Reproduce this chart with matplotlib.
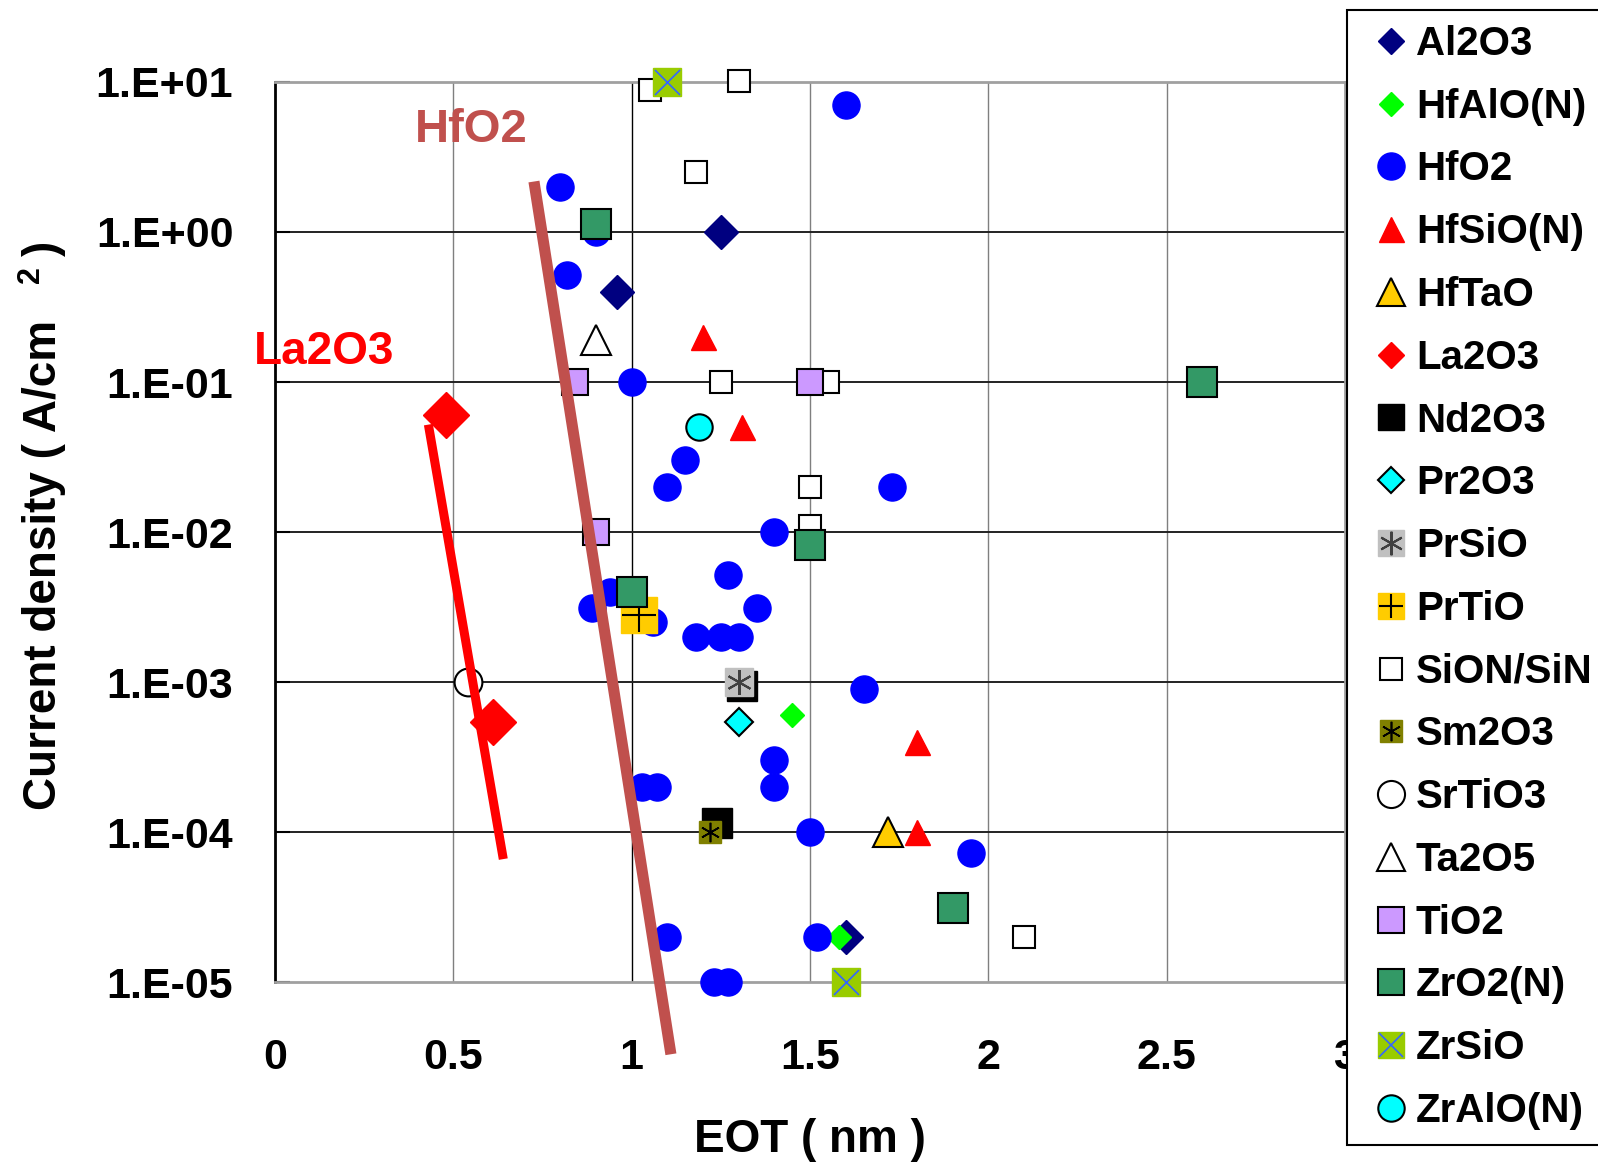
import numpy as np
import matplotlib
matplotlib.use('Agg')
import matplotlib.pyplot as plt
from matplotlib.lines import Line2D
from matplotlib.legend_handler import HandlerTuple

plt.rcParams['font.family'] = ['Liberation Sans', 'DejaVu Sans']
plt.rcParams['font.weight'] = 'bold'

### Data (EOT in nm, current density in A/cm2)
al2o3_x = [1.25, 0.96, 1.60]
al2o3_y = [1.0, 0.40, 2.0e-5]
hfalo_x = [1.45, 1.58]
hfalo_y = [6.0e-4, 2.0e-5]
hfo2_x = [1.60, 0.80, 0.90, 0.82, 1.00, 1.15, 1.10, 1.73, 1.40, 1.27, 0.94, 0.89, 1.06,
          1.35, 1.18, 1.25, 1.30, 1.65, 1.40, 1.40, 1.03, 1.07, 1.50, 1.95, 1.10, 1.52,
          1.23, 1.27]
hfo2_y = [7.0, 2.0, 1.0, 0.52, 0.10, 0.030, 0.020, 0.020, 0.010, 0.0052, 0.0040, 0.0031,
          0.0025, 0.0031, 0.0020, 0.0020, 0.0020, 9.0e-4, 3.0e-4, 2.0e-4, 2.0e-4, 2.0e-4,
          1.0e-4, 7.3e-5, 2.0e-5, 2.0e-5, 1.0e-5, 1.0e-5]
hfsio_x = [1.20, 1.31, 1.80, 1.80]
hfsio_y = [0.20, 0.050, 4.0e-4, 1.0e-4]
hftao_x = [1.72]
hftao_y = [1.0e-4]
la2o3_x = [0.48, 0.61]
la2o3_y = [0.060, 5.4e-4]
nd2o3_x = [1.24, 1.31]
nd2o3_y = [1.15e-4, 9.4e-4]
pr2o3_x = [1.30]
pr2o3_y = [5.4e-4]
prsio_x = [1.30]
prsio_y = [1.0e-3]
prtio_x = [1.02]
prtio_y = [2.8e-3]
sion_x = [1.05, 1.30, 1.18, 1.25, 1.55, 1.50, 1.50, 2.10]
sion_y = [8.8, 10.2, 2.5, 0.10, 0.10, 0.020, 0.011, 2.0e-5]
sm2o3_x = [1.22]
sm2o3_y = [1.0e-4]
srtio3_x = [0.54]
srtio3_y = [1.0e-3]
ta2o5_x = [0.90]
ta2o5_y = [0.19]
tio2_x = [0.84, 0.90, 1.50]
tio2_y = [0.10, 0.010, 0.10]
zro2_x = [0.90, 1.00, 1.50, 2.60, 1.90]
zro2_y = [1.13, 0.0040, 0.0082, 0.10, 3.1e-5]
zrsio_x = [1.10, 1.60]
zrsio_y = [10.0, 1.0e-5]
zralo_x = [1.19]
zralo_y = [0.050]

hfo2_trend_x = [0.726, 1.11]
hfo2_trend_y = [2.17, 3.3e-6]
la2o3_trend_x = [0.43, 0.64]
la2o3_trend_y = [0.052, 6.6e-5]

yticks = [1e-5, 1e-4, 1e-3, 1e-2, 1e-1, 1e0, 1e1]
yticklabels = ['1.E-05', '1.E-04', '1.E-03', '1.E-02', '1.E-01', '1.E+00', '1.E+01']
xticks = [0, 0.5, 1, 1.5, 2, 2.5, 3]
xticklabels = ['0', '0.5', '1', '1.5', '2', '2.5', '3']

### Marker styles: (label, x, y, layers) where each layer is marker kwargs
star6 = (6, 2, 0)
series = [
    ('Al2O3', al2o3_x, al2o3_y, [dict(marker='D', ms=17, mfc='#000080', mec='#000080')]),
    ('HfAlO(N)', hfalo_x, hfalo_y, [dict(marker='D', ms=12.5, mfc='#00FF00', mec='#00FF00')]),
    ('HfO2', hfo2_x, hfo2_y, [dict(marker='o', ms=19.5, mfc='#0000FF', mec='#0000FF')]),
    ('HfSiO(N)', hfsio_x, hfsio_y, [dict(marker='^', ms=18, mfc='#FF0000', mec='#FF0000')]),
    ('HfTaO', hftao_x, hftao_y, [dict(marker='^', ms=22, mfc='#FFCC00', mec='black', mew=1.5)]),
    ('La2O3', la2o3_x, la2o3_y, [dict(marker='D', ms=23, mfc='#FF0000', mec='#FF0000')]),
    ('Nd2O3', nd2o3_x, nd2o3_y, [dict(marker='s', ms=22, mfc='black', mec='black')]),
    ('Pr2O3', pr2o3_x, pr2o3_y, [dict(marker='D', ms=14, mfc='#00FFFF', mec='black', mew=1.5)]),
    ('PrSiO', prsio_x, prsio_y, [dict(marker='s', ms=20, mfc='#C0C0C0', mec='#C0C0C0'),
                                 dict(marker=star6, ms=18, mec='#404040', mew=1.5)]),
    ('PrTiO', prtio_x, prtio_y, [dict(marker='s', ms=26, mfc='#FFCC00', mec='#FFCC00'),
                                 dict(marker='+', ms=24, mec='black', mew=1.5)]),
    ('SiON/SiN', sion_x, sion_y, [dict(marker='s', ms=16, mfc='white', mec='black', mew=1.5)]),
    ('Sm2O3', sm2o3_x, sm2o3_y, [dict(marker='s', ms=16, mfc='#808000', mec='#808000'),
                                 dict(marker=star6, ms=14, mec='black', mew=1.2)]),
    ('SrTiO3', srtio3_x, srtio3_y, [dict(marker='o', ms=20, mfc='white', mec='black', mew=1.5)]),
    ('Ta2O5', ta2o5_x, ta2o5_y, [dict(marker='^', ms=22, mfc='white', mec='black', mew=1.5)]),
    ('TiO2', tio2_x, tio2_y, [dict(marker='s', ms=19, mfc='#CC99FF', mec='black', mew=1.5)]),
    ('ZrO2(N)', zro2_x, zro2_y, [dict(marker='s', ms=21, mfc='#339966', mec='black', mew=1.5)]),
    ('ZrSiO', zrsio_x, zrsio_y, [dict(marker='s', ms=20, mfc='#99CC00', mec='#99CC00'),
                                 dict(marker='x', ms=18, mec='#3366FF', mew=1.2)]),
    ('ZrAlO(N)', zralo_x, zralo_y, [dict(marker='o', ms=19, mfc='#00FFFF', mec='black', mew=1.5)]),
]

fig = plt.figure(figsize=(15.98, 11.63), dpi=100)
ax = fig.add_axes([0.1721, 0.1556, 0.6696, 0.7739])
ax.set_yscale('log')
ax.set_xlim(0, 3)
ax.set_ylim(1e-5, 1e1)

### Grid
for xv in xticks[1:-1]:
    ax.axvline(xv, color='black' if xv == 1 else '#7f7f7f', linewidth=1.0, zorder=0.5)
for yv in yticks[1:-1]:
    ax.axhline(yv, color='#222222', linewidth=1.4, zorder=0.5)

### Points
def legendSize(layer):
    m = layer['marker']
    if m == 'D':
        return min(layer['ms'], 13.5)
    if m == 's':
        return min(layer['ms'], 19)
    if m in ('o', '^'):
        return min(layer['ms'], 19.5)
    return min(layer['ms'], 17)

handles = []
z = 3
for label, xs, ys, layers in series:
    legendParts = []
    for layer in layers:
        ax.plot(xs, ys, linestyle='none', clip_on=False, zorder=z, **layer)
        z += 0.01
        small = dict(layer)
        small['ms'] = legendSize(layer)
        legendParts.append(Line2D([], [], linestyle='none', **small))
    handles.append(tuple(legendParts) if len(legendParts) > 1 else legendParts[0])

### Trend lines
ax.plot(hfo2_trend_x, hfo2_trend_y, color='#C0504D', linewidth=8, solid_capstyle='butt',
        clip_on=False, zorder=10)
ax.plot(la2o3_trend_x, la2o3_trend_y, color='#FF0000', linewidth=6.5, solid_capstyle='butt',
        clip_on=False, zorder=10)
ax.text(0.55, 4.8, 'HfO2', color='#C0504D', fontsize=34, fontweight='bold',
        ha='center', va='center', zorder=11)
ax.text(0.137, 0.158, 'La2O3', color='#FF0000', fontsize=33, fontweight='bold',
        ha='center', va='center', zorder=11)

### Axes styling
ax.set_yticks(yticks)
ax.set_yticklabels(yticklabels)
ax.minorticks_off()
ax.set_xticks(xticks)
ax.set_xticklabels(xticklabels)
ax.tick_params(axis='y', direction='in', length=11, width=1.5, pad=30, labelsize=31)
ax.tick_params(axis='x', length=0, pad=40, labelsize=31)
for lab in ax.get_xticklabels() + ax.get_yticklabels():
    lab.set_fontweight('bold')
ax.spines['left'].set_color('black')
ax.spines['left'].set_linewidth(2)
for side in ('top', 'right', 'bottom'):
    ax.spines[side].set_color('#a0a0a0')
    ax.spines[side].set_linewidth(2)

fig.text(0.5069, 1 - 1140 / 1163, 'EOT ( nm )', fontsize=33, fontweight='bold',
         ha='center', va='center')
fig.text(44 / 1598, 1 - 810 / 1163, 'Current density ( A/cm', fontsize=33, fontweight='bold',
         rotation=90, rotation_mode='anchor', ha='left', va='center')
fig.text(31 / 1598, 1 - 275 / 1163, '2', fontsize=22, fontweight='bold',
         rotation=90, ha='center', va='center')
fig.text(44 / 1598, 1 - 248 / 1163, ')', fontsize=33, fontweight='bold',
         rotation=90, ha='center', va='center')

labels = [s[0] for s in series]
leg = fig.legend(handles, labels, loc='upper left', bbox_to_anchor=(1347 / 1598, 1 - 10 / 1163),
                 handler_map={tuple: HandlerTuple(ndivide=1)}, fontsize=29,
                 frameon=True, fancybox=False, framealpha=1, edgecolor='black',
                 handlelength=1.44, handletextpad=-0.1, borderpad=0.37, labelspacing=0.615,
                 borderaxespad=0)
leg.get_frame().set_linewidth(1.5)
for t in leg.get_texts():
    t.set_fontweight('bold')

fig.savefig('out.png', dpi=100)
